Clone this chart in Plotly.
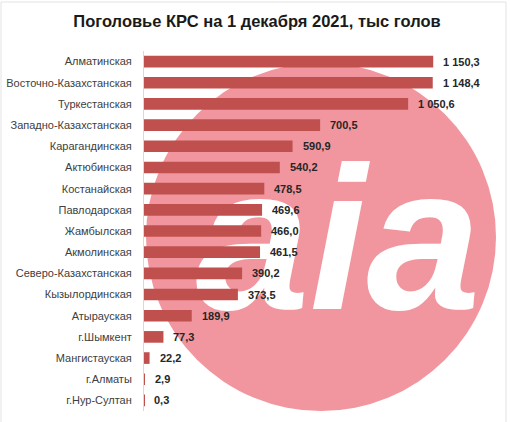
import plotly.graph_objects as go

regions = ["Алматинская", "Восточно-Казахстанская", "Туркестанская", "Западно-Казахстанская",
           "Карагандинская", "Актюбинская", "Костанайская", "Павлодарская", "Жамбылская",
           "Акмолинская", "Северо-Казахстанская", "Кызылординская", "Атырауская", "г.Шымкент",
           "Мангистауская", "г.Алматы", "г.Нур-Султан"]
values = [1150.3, 1148.4, 1050.6, 700.5, 590.9, 540.2, 478.5, 469.6, 466.0, 461.5,
          390.2, 373.5, 189.9, 77.3, 22.2, 2.9, 0.3]
title = "Поголовье КРС на 1 декабря 2021, тыс голов"


def fmt(v):
    s = f"{v:,.1f}".replace(",", " ").replace(".", ",")
    return s


labels = [fmt(v) for v in values]

W, H = 510, 422
L, R, T, B = 144, 14, 51, 11
PW, PH = W - L - R, H - T - B


def px(x):
    return (x - L) / PW


def py(y):
    return (H - B - y) / PH


BAR = "#C0504D"
PINK = "#F1969E"

fig = go.Figure()

# watermark letters on the underlying axes (drawn beneath the bars)
fig.add_trace(go.Scatter(
    x=[px(338)], y=[py(258)], mode="text", text=["aia"],
    textfont=dict(family="Liberation Sans", size=205, color="white", weight="bold", style="italic"),
    textposition="middle center", hoverinfo="skip", showlegend=False,
    xaxis="x", yaxis="y"))

fig.add_trace(go.Bar(
    y=regions, x=values, orientation="h", marker=dict(color=BAR, line=dict(width=0)),
    xaxis="x2", yaxis="y2", showlegend=False, hoverinfo="skip"))

for r, v, t in zip(regions, values, labels):
    fig.add_annotation(x=v, y=r, xref="x2", yref="y2", text=t, showarrow=False,
                       xanchor="left", xshift=8,
                       font=dict(family="Liberation Sans", size=11, color="#262626", weight="bold"))

fig.update_layout(
    width=W, height=H,
    margin=dict(l=L, r=R, t=T, b=B, autoexpand=False),
    paper_bgcolor="white", plot_bgcolor="rgba(0,0,0,0)",
    bargap=0.45,
    title=dict(text=title, x=257 / W, xref="container", y=1 - 21 / H, yref="container",
               yanchor="middle", xanchor="center",
               font=dict(family="Liberation Sans", size=16.5, color="#1a1a1a", weight="bold")),
    xaxis=dict(range=[0, 1], visible=False, fixedrange=True),
    yaxis=dict(range=[0, 1], visible=False, fixedrange=True),
    xaxis2=dict(overlaying="x", range=[0, 1400], visible=False, fixedrange=True),
    yaxis2=dict(overlaying="y", autorange="reversed", showline=True, linecolor="#D9D9D9",
                linewidth=1, ticks="", showgrid=False, ticklabelstandoff=9, fixedrange=True,
                tickfont=dict(family="Liberation Sans", size=11, color="#404040")),
    shapes=[
        dict(type="circle", xref="paper", yref="paper", layer="below",
             x0=px(321 - 175), x1=px(321 + 175), y0=py(237 + 174), y1=py(237 - 174),
             fillcolor=PINK, line=dict(width=0)),
        dict(type="rect", xref="paper", yref="paper", layer="below",
             x0=px(1), x1=px(506), y0=py(440), y1=py(2),
             fillcolor="rgba(0,0,0,0)", line=dict(width=1, color="#E3E3E3")),
    ],
)

fig.write_html("out.html", config={"displayModeBar": False},
               post_script="document.body.style.margin='0';document.body.style.overflow='hidden';")
